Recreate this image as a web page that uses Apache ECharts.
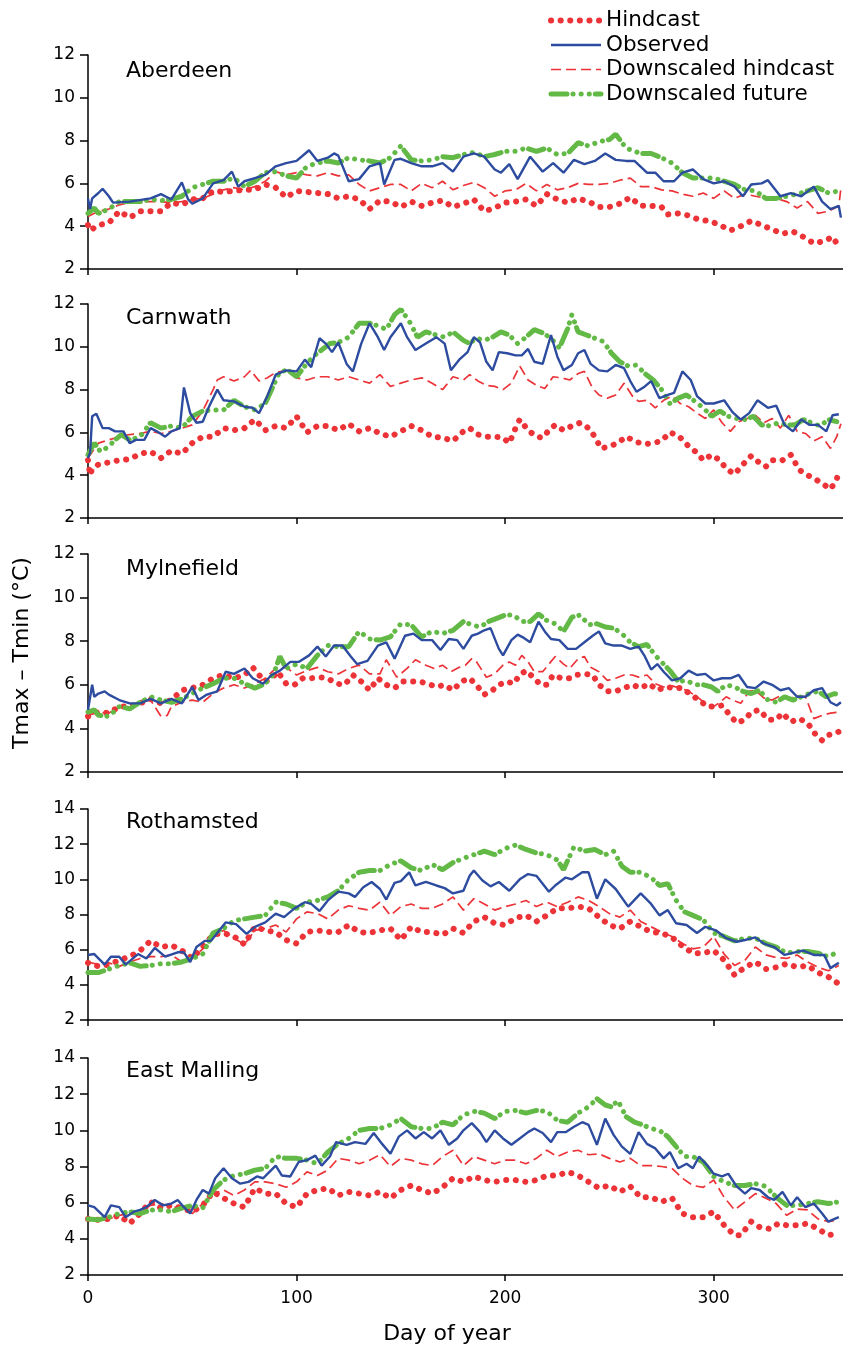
<!DOCTYPE html>
<html><head><meta charset="utf-8">
<script src="https://cdn.jsdelivr.net/npm/echarts@6/dist/echarts.min.js"></script>
<style>html,body{margin:0;padding:0;background:#fff}#c{width:843px;height:1347px}</style>
</head><body><div id="c"></div><script>
// ---- DATA: [day of year, Tmax - Tmin (°C)] ----
const stations = ['Aberdeen', 'Carnwath', 'Mylnefield', 'Rothamsted', 'East Malling'];
const seriesNames = ['Hindcast', 'Observed', 'Downscaled hindcast', 'Downscaled future'];
const xTicks = [0, 100, 200, 300];
const yMaxes = [12, 12, 12, 14, 14];

const obsAberdeen = [[0,5.3],[1,4.8],[2,5.3],[5,5.55],[7,5.75],[10,5.4],[12,5.1],[20,5.15],[30,5.3],[35,5.5],[40,5.25],[45,6.05],[48,5.25],[50,5.05],[55,5.3],[60,6.0],[65,6.15],[69,6.55],[72,5.85],[75,6.1],[80,6.25],[85,6.4],[90,6.8],[95,6.95],[100,7.05],[106,7.55],[110,7.05],[115,7.2],[118,7.4],[120,7.3],[125,6.1],[130,6.2],[135,6.8],[140,6.95],[142,5.95],[147,7.1],[150,7.15],[155,6.95],[160,6.8],[165,6.8],[170,6.95],[175,6.55],[180,7.25],[185,7.4],[190,7.25],[195,6.65],[198,6.5],[202,6.9],[206,6.2],[212,7.25],[218,6.55],[223,6.95],[228,6.5],[233,7.1],[238,6.9],[243,7.05],[248,7.4],[253,7.1],[258,7.05],[262,7.05],[268,6.5],[272,6.5],[276,6.1],[281,6.1],[285,6.5],[290,6.65],[295,6.2],[300,6.0],[305,6.1],[310,5.85],[314,5.4],[318,5.95],[323,6.0],[326,6.15],[332,5.4],[337,5.55],[342,5.4],[348,5.85],[352,5.15],[356,4.8],[360,4.95],[361,4.4]];
const hindAberdeen = [[0,4.05],[1,3.8],[5,4.05],[10,4.15],[15,4.7],[20,4.4],[25,4.7],[30,4.7],[35,4.7],[40,5.1],[45,5.0],[50,5.25],[55,5.3],[60,5.65],[65,5.6],[70,5.65],[75,5.7],[80,5.7],[85,5.95],[90,5.8],[95,5.35],[100,5.65],[105,5.6],[110,5.55],[115,5.5],[120,5.3],[125,5.4],[130,5.25],[135,4.8],[140,5.2],[145,5.15],[150,4.9],[155,5.15],[160,4.95],[165,5.1],[170,5.2],[175,4.9],[180,5.05],[185,5.25],[190,4.7],[195,4.85],[200,5.1],[205,5.15],[210,5.25],[215,4.95],[220,5.5],[225,5.25],[230,5.1],[235,5.3],[240,5.15],[245,4.9],[250,4.9],[255,5.05],[260,5.35],[265,4.95],[270,4.95],[275,4.9],[278,4.55],[283,4.6],[288,4.5],[293,4.3],[298,4.25],[303,4.05],[308,3.8],[313,4.0],[318,4.25],[323,4.05],[328,3.85],[333,3.65],[338,3.75],[343,3.5],[348,3.2],[353,3.3],[357,3.5],[360,3.05]];
const dsHindAberdeen = [[0,4.45],[5,4.7],[10,4.8],[15,5.0],[20,5.1],[25,5.15],[30,5.15],[35,5.15],[40,5.1],[45,5.15],[50,5.25],[55,5.3],[60,5.5],[65,5.7],[70,5.8],[75,5.7],[80,5.85],[85,6.1],[90,6.55],[95,6.4],[100,6.5],[105,6.4],[110,6.35],[115,6.5],[120,6.35],[125,6.4],[130,5.95],[135,5.65],[140,5.8],[145,5.95],[150,5.95],[155,5.65],[160,6.0],[165,5.8],[170,6.1],[175,5.7],[180,5.9],[185,6.05],[190,5.8],[195,5.4],[200,5.65],[205,5.7],[210,6.0],[215,5.65],[220,5.95],[225,5.7],[230,5.8],[235,6.0],[240,5.95],[245,5.95],[250,6.0],[255,6.15],[260,6.25],[265,5.85],[270,5.85],[275,5.7],[280,5.65],[285,5.5],[290,5.4],[295,5.55],[300,5.3],[305,5.65],[310,5.3],[315,5.5],[320,5.4],[325,5.3],[330,5.3],[335,5.15],[340,4.85],[345,5.15],[350,4.6],[355,4.7],[360,4.95],[361,5.8]];
const dsFutAberdeen = [[0,4.6],[3,4.85],[5,4.6],[10,4.8],[15,5.15],[20,5.15],[25,5.15],[30,5.25],[35,5.2],[40,5.25],[45,5.4],[50,5.8],[55,5.95],[60,6.1],[65,6.1],[70,6.25],[75,5.85],[80,6.1],[85,6.5],[90,6.55],[95,6.35],[100,6.25],[105,6.8],[110,6.95],[115,7.05],[120,6.95],[125,7.2],[130,7.1],[135,7.05],[140,6.95],[145,7.2],[150,7.75],[155,7.1],[160,7.05],[165,7.1],[170,7.25],[175,7.2],[180,7.35],[185,7.45],[190,7.25],[195,7.35],[200,7.5],[205,7.5],[210,7.65],[215,7.5],[220,7.65],[225,7.35],[230,7.4],[235,7.9],[240,7.75],[245,7.95],[250,8.05],[253,8.3],[258,7.65],[262,7.5],[265,7.4],[270,7.4],[275,7.2],[280,6.95],[285,6.5],[290,6.25],[295,6.25],[300,6.25],[305,6.1],[310,5.95],[315,5.7],[320,5.65],[325,5.3],[330,5.3],[335,5.4],[340,5.5],[345,5.65],[350,5.8],[355,5.55],[360,5.65]];

const obsCarnwath = [[0,4.8],[1,5.05],[2,6.75],[4,6.87],[7,6.2],[10,6.2],[13,6.05],[17,6.05],[20,5.5],[23,5.65],[27,5.65],[30,6.2],[33,6.05],[37,5.8],[40,6.05],[44,6.2],[46,8.1],[49,6.9],[52,6.45],[55,6.5],[58,7.2],[62,8.0],[65,7.5],[70,7.45],[75,7.2],[79,7.15],[82,6.9],[86,7.7],[90,8.7],[95,8.9],[100,8.85],[104,9.4],[107,9.05],[111,10.4],[114,10.15],[117,9.75],[120,10.2],[124,9.2],[127,8.85],[131,10.15],[135,11.1],[139,10.45],[142,9.85],[145,10.45],[150,11.1],[153,10.45],[157,9.85],[162,10.15],[167,10.45],[171,10.15],[174,8.9],[178,9.4],[182,9.75],[185,10.45],[188,10.2],[191,9.3],[194,8.9],[197,9.75],[201,9.7],[205,9.6],[208,9.6],[211,9.9],[214,9.3],[218,9.2],[222,10.55],[225,9.55],[228,8.9],[232,9.15],[235,9.7],[238,9.85],[241,9.2],[245,8.9],[249,8.85],[253,9.15],[257,9.0],[260,8.4],[263,7.9],[267,8.15],[270,8.4],[274,7.6],[278,7.75],[281,7.85],[285,8.85],[289,8.45],[292,7.7],[296,7.35],[300,7.35],[305,7.5],[309,6.95],[313,6.6],[317,6.9],[321,7.5],[326,7.15],[330,7.25],[334,6.35],[338,6.05],[342,6.6],[346,6.35],[350,6.35],[354,6.05],[357,6.8],[360,6.85]];
const hindCarnwath = [[0,4.7],[1,4.0],[2,4.3],[5,4.5],[10,4.6],[15,4.7],[20,4.75],[25,5.0],[30,5.1],[35,4.8],[40,5.15],[45,5.0],[50,5.5],[55,5.8],[60,5.8],[65,6.2],[70,6.1],[75,6.2],[80,6.6],[85,6.1],[90,6.3],[95,6.2],[100,6.75],[105,6.0],[110,6.3],[115,6.3],[120,6.1],[125,6.4],[130,6.05],[135,6.2],[140,5.95],[145,5.8],[150,6.05],[155,6.3],[160,6.1],[165,5.8],[170,5.75],[175,5.6],[180,6.05],[183,6.2],[187,5.9],[191,5.8],[195,5.8],[199,5.75],[202,5.5],[205,6.2],[207,6.6],[211,6.1],[215,5.8],[218,5.75],[221,6.1],[224,6.35],[228,6.1],[232,6.3],[236,6.45],[240,6.2],[243,5.8],[246,5.25],[250,5.35],[254,5.5],[258,5.8],[263,5.55],[267,5.45],[271,5.5],[275,5.6],[279,6.0],[283,5.85],[288,5.35],[292,5.05],[295,4.7],[299,4.95],[303,4.7],[306,4.3],[310,4.05],[314,4.5],[318,4.9],[321,4.65],[325,4.4],[328,4.7],[333,4.7],[337,4.95],[341,4.25],[345,4.0],[349,3.8],[353,3.55],[356,3.35],[359,3.8],[360,4.2]];
const dsHindCarnwath = [[0,4.8],[5,5.5],[10,5.65],[15,5.8],[20,5.9],[25,5.95],[30,6.05],[35,5.95],[40,6.05],[45,6.2],[50,6.35],[55,7.0],[60,8.0],[62,8.45],[65,8.6],[70,8.4],[75,8.6],[78,8.9],[82,8.4],[86,8.55],[90,8.8],[95,8.9],[100,8.55],[105,8.45],[110,8.6],[115,8.6],[120,8.45],[125,8.6],[130,8.45],[135,8.3],[140,8.7],[145,8.15],[150,8.3],[155,8.45],[160,8.55],[165,8.3],[170,8.0],[175,8.6],[180,8.45],[183,8.7],[187,8.4],[191,8.2],[195,8.15],[199,8.0],[203,8.3],[207,9.1],[211,8.45],[215,8.2],[219,8.05],[223,8.6],[227,8.55],[231,8.45],[235,8.75],[238,8.85],[242,8.05],[245,7.75],[249,7.6],[253,7.75],[257,8.3],[261,7.7],[264,7.45],[268,7.5],[272,7.15],[276,7.5],[280,7.7],[284,7.35],[288,7.2],[292,6.9],[296,6.65],[300,7.05],[304,6.45],[308,6.05],[312,6.5],[316,6.65],[320,6.8],[324,6.45],[328,6.65],[332,6.2],[336,6.8],[340,6.05],[344,5.95],[348,5.6],[352,5.8],[356,5.25],[359,5.8],[361,6.4]];
const dsFutCarnwath = [[0,4.95],[3,5.5],[6,5.1],[10,5.35],[13,5.65],[16,5.9],[20,5.65],[25,5.8],[30,6.45],[35,6.2],[40,6.3],[45,6.2],[50,6.75],[55,7.0],[60,7.05],[65,7.05],[70,7.5],[75,7.2],[80,7.05],[85,7.35],[88,8.0],[92,8.85],[96,8.9],[100,8.6],[104,9.1],[108,9.55],[112,9.85],[116,10.15],[120,10.2],[125,10.45],[130,11.1],[135,11.1],[140,10.95],[143,10.8],[147,11.5],[150,11.75],[154,11.2],[158,10.45],[162,10.7],[167,10.55],[171,10.45],[175,10.7],[180,10.3],[183,10.15],[186,10.4],[190,10.3],[194,10.45],[198,10.7],[202,10.55],[206,10.15],[210,10.45],[214,10.8],[218,10.65],[222,10.4],[226,9.95],[230,10.85],[232,11.5],[235,10.7],[239,10.55],[243,10.4],[247,10.25],[251,9.7],[255,9.3],[259,9.1],[263,9.15],[267,8.75],[271,8.45],[275,8.0],[279,7.35],[283,7.6],[287,7.75],[291,7.45],[295,7.15],[299,6.75],[303,7.0],[307,6.75],[311,6.65],[315,6.6],[319,6.75],[323,6.35],[327,6.3],[331,6.45],[335,6.35],[339,6.35],[343,6.6],[347,6.45],[351,6.3],[355,6.6],[359,6.5]];

const obsMylnefield = [[0,4.85],[2,6.0],[3,5.45],[5,5.6],[8,5.7],[10,5.55],[15,5.3],[20,5.15],[25,5.15],[30,5.35],[35,5.15],[40,5.35],[45,5.15],[50,5.9],[53,5.3],[57,5.55],[62,5.7],[66,6.6],[70,6.5],[75,6.75],[79,6.3],[84,6.05],[88,6.45],[92,6.65],[97,7.05],[101,7.05],[106,7.35],[110,7.75],[114,7.3],[118,7.8],[122,7.8],[126,7.3],[129,6.95],[134,7.1],[139,7.8],[143,7.95],[147,7.2],[152,8.25],[156,8.35],[160,8.05],[165,8.05],[169,7.6],[173,8.1],[177,8.05],[180,7.65],[184,8.25],[187,8.35],[190,8.5],[193,8.6],[197,7.65],[199,7.35],[203,8.05],[206,8.3],[209,8.15],[212,7.95],[216,8.9],[219,8.45],[222,8.1],[226,8.05],[230,7.65],[234,7.65],[238,7.95],[242,8.25],[245,8.45],[248,7.9],[252,7.8],[256,7.8],[260,7.65],[264,7.75],[267,7.3],[270,6.7],[273,6.95],[276,6.6],[280,6.2],[284,6.3],[288,6.65],[292,6.45],[296,6.5],[300,6.2],[304,6.3],[308,6.3],[312,6.45],[316,5.9],[320,5.85],[324,6.15],[328,6.0],[332,5.75],[336,5.85],[340,5.45],[344,5.45],[348,5.75],[352,5.85],[356,5.2],[359,5.05],[361,5.2]];
const hindMylnefield = [[0,4.55],[5,4.75],[10,4.7],[15,5.0],[20,5.0],[25,5.15],[30,5.35],[35,5.15],[40,5.3],[45,5.75],[50,5.85],[55,6.0],[60,6.3],[65,6.45],[70,6.3],[75,6.45],[79,6.8],[82,6.45],[85,6.15],[88,6.3],[91,6.6],[95,6.05],[99,6.0],[103,6.3],[107,6.3],[111,6.35],[115,6.3],[119,6.05],[123,6.0],[127,6.45],[131,6.15],[135,5.75],[139,6.3],[143,6.0],[147,5.85],[151,6.15],[155,6.15],[159,6.15],[163,6.05],[167,5.9],[171,6.0],[175,5.75],[179,6.15],[183,6.3],[187,5.9],[190,5.55],[194,5.75],[197,6.0],[201,6.15],[204,6.05],[207,6.45],[210,6.65],[214,6.3],[217,6.0],[220,6.0],[223,6.45],[227,6.3],[231,6.3],[234,6.45],[238,6.5],[242,6.45],[245,6.0],[249,5.7],[253,5.7],[257,5.85],[261,6.0],[265,5.85],[269,6.05],[273,5.75],[277,5.9],[281,5.85],[285,5.85],[289,5.55],[293,5.3],[297,5.0],[300,5.0],[304,5.05],[307,4.7],[311,4.25],[315,4.4],[318,4.75],[322,4.85],[326,4.4],[330,4.4],[333,4.7],[337,4.3],[341,4.45],[345,4.25],[349,3.7],[352,3.45],[355,3.7],[358,3.75],[360,3.85]];
const dsHindMylnefield = [[0,4.6],[5,4.75],[10,4.7],[15,5.0],[20,5.05],[25,5.2],[30,5.3],[35,4.55],[38,4.6],[40,5.0],[45,5.2],[50,5.3],[55,5.2],[60,5.6],[65,5.85],[70,6.0],[75,5.85],[80,6.05],[85,6.3],[90,6.75],[95,6.8],[100,6.45],[105,6.65],[110,6.8],[115,6.6],[120,6.5],[125,6.75],[130,6.9],[135,6.5],[140,6.5],[143,7.15],[148,6.35],[153,6.75],[157,7.15],[162,6.9],[166,6.75],[170,6.9],[174,6.6],[178,6.8],[181,6.9],[184,7.2],[186,7.1],[188,6.8],[191,6.35],[195,6.5],[199,6.9],[202,7.05],[205,6.9],[208,7.35],[211,7.05],[214,6.6],[218,6.6],[221,6.95],[224,7.3],[228,6.95],[231,6.75],[235,7.2],[238,7.3],[241,6.8],[245,6.6],[249,6.2],[253,6.3],[257,6.45],[261,6.45],[264,6.35],[268,6.45],[272,6.05],[276,5.9],[280,5.95],[284,5.85],[288,5.7],[292,5.45],[296,5.15],[300,5.0],[303,5.2],[306,5.45],[309,5.3],[313,5.15],[317,5.7],[320,5.75],[324,5.4],[328,5.3],[332,5.5],[336,5.35],[340,5.5],[344,5.45],[348,4.45],[352,4.6],[356,4.7],[360,4.75]];
const dsFutMylnefield = [[0,4.75],[3,4.85],[5,4.6],[10,4.55],[15,5.0],[20,4.9],[25,5.2],[30,5.45],[35,5.3],[40,5.2],[45,5.35],[50,5.6],[55,5.85],[60,6.05],[65,6.3],[70,6.3],[75,6.05],[80,5.85],[85,6.05],[89,6.5],[92,7.3],[95,6.75],[100,6.95],[105,6.75],[110,7.35],[115,7.8],[120,7.75],[125,7.75],[130,8.45],[135,8.1],[140,8.05],[145,8.2],[150,8.8],[155,8.75],[160,8.2],[165,8.45],[170,8.35],[175,8.5],[180,8.9],[184,8.75],[188,8.65],[192,8.9],[196,9.05],[200,9.2],[204,9.2],[208,8.9],[212,8.9],[216,9.25],[220,8.95],[224,8.8],[228,8.45],[232,9.1],[236,9.2],[240,8.75],[244,8.8],[248,8.65],[252,8.6],[256,8.35],[260,7.95],[264,7.75],[268,7.85],[272,7.35],[275,7.05],[279,6.65],[283,6.15],[287,6.2],[291,6.0],[295,6.0],[299,5.9],[302,5.7],[306,6.0],[310,5.9],[314,5.7],[318,5.6],[322,5.75],[326,5.3],[330,5.2],[334,5.45],[338,5.3],[342,5.45],[346,5.6],[350,5.7],[354,5.45],[358,5.6],[361,5.5]];

const obsRothamsted = [[0,5.7],[3,5.75],[8,5.15],[11,5.6],[15,5.6],[18,5.15],[24,5.75],[28,5.5],[32,6.1],[37,5.6],[43,5.85],[46,5.85],[49,5.3],[52,6.15],[56,6.5],[59,6.5],[63,7.1],[66,7.55],[71,7.45],[76,6.9],[80,7.3],[85,7.55],[90,8.05],[94,7.85],[99,8.35],[104,8.7],[107,8.6],[111,8.2],[115,8.8],[120,9.3],[125,9.2],[128,9.0],[132,9.55],[136,9.85],[140,9.45],[143,8.85],[147,9.8],[150,9.9],[154,10.4],[157,9.65],[162,9.85],[167,9.65],[171,9.5],[175,9.2],[180,9.35],[183,10.2],[185,10.5],[189,9.95],[193,9.6],[197,9.85],[202,9.35],[207,10.0],[211,10.3],[215,10.2],[221,9.3],[224,9.65],[229,10.1],[232,10.0],[237,10.4],[240,10.4],[244,8.9],[248,10.0],[253,9.45],[259,8.45],[265,9.2],[270,8.6],[274,7.95],[278,8.25],[282,7.5],[287,7.4],[292,6.95],[296,7.3],[301,7.1],[306,6.65],[311,6.45],[315,6.55],[320,6.7],[324,6.35],[329,6.15],[334,5.7],[339,5.85],[343,5.95],[348,5.7],[353,5.7],[356,4.95],[360,5.25]];
const hindRothamsted = [[0,5.25],[5,5.05],[10,5.15],[15,5.4],[20,5.6],[25,5.95],[30,6.5],[35,6.15],[40,6.25],[45,5.95],[50,5.5],[55,6.15],[60,6.85],[65,6.95],[70,6.75],[75,6.3],[80,7.3],[85,7.1],[90,7.0],[95,6.55],[100,6.35],[105,7.0],[110,7.1],[115,7.0],[120,7.0],[125,7.4],[130,7.0],[135,6.95],[140,7.1],[145,7.2],[150,6.55],[155,7.3],[160,7.0],[165,7.0],[170,6.85],[175,7.2],[180,6.95],[185,7.6],[190,7.85],[195,7.5],[200,7.4],[205,7.8],[210,7.95],[215,7.6],[220,7.95],[225,8.35],[230,8.35],[235,8.45],[240,8.35],[245,7.85],[250,7.4],[255,7.2],[260,7.6],[265,7.3],[270,7.0],[275,6.95],[280,6.7],[285,6.2],[290,5.8],[295,5.8],[300,5.95],[305,5.4],[310,4.55],[315,5.0],[320,5.3],[325,4.9],[330,5.0],[335,5.2],[340,5.0],[345,5.1],[350,4.7],[355,4.45],[360,4.05]];
const dsHindRothamsted = [[0,5.3],[5,5.15],[10,5.25],[15,5.05],[20,5.3],[25,5.5],[30,5.6],[35,5.6],[40,5.7],[45,5.3],[50,5.5],[55,6.05],[60,6.7],[65,7.1],[70,6.65],[75,6.3],[80,7.1],[85,7.2],[90,7.4],[95,7.0],[100,7.75],[105,8.15],[110,8.05],[115,7.75],[120,8.25],[125,8.5],[130,8.35],[135,8.25],[140,8.7],[145,7.95],[150,8.45],[155,8.6],[160,8.35],[165,8.35],[170,8.6],[175,9.0],[180,8.25],[185,8.9],[190,8.6],[195,8.25],[200,8.45],[205,8.6],[210,8.8],[215,8.45],[220,8.7],[225,8.45],[230,8.7],[235,9.0],[240,8.8],[245,8.45],[250,8.05],[255,7.85],[260,8.25],[265,7.6],[270,7.3],[275,7.0],[280,6.75],[285,6.35],[290,6.05],[295,6.15],[300,6.75],[305,5.75],[310,5.1],[315,5.4],[320,6.15],[325,5.7],[330,5.55],[335,5.5],[340,5.7],[345,5.3],[350,5.0],[355,4.8],[360,5.1]];
const dsFutRothamsted = [[0,4.7],[5,4.7],[10,4.9],[15,5.1],[20,5.25],[25,5.05],[30,5.1],[35,5.2],[40,5.2],[45,5.3],[50,5.5],[55,5.75],[60,6.95],[65,7.2],[70,7.65],[75,7.75],[80,7.85],[85,7.95],[90,8.7],[95,8.6],[100,8.35],[105,8.7],[110,8.8],[115,9.0],[120,9.35],[125,10.0],[130,10.4],[135,10.5],[140,10.5],[145,10.85],[150,11.05],[155,10.65],[160,10.5],[165,10.85],[170,10.55],[175,10.95],[180,11.2],[185,11.4],[190,11.6],[195,11.4],[200,11.75],[205,11.95],[210,11.7],[215,11.5],[220,11.4],[225,11.1],[228,10.55],[233,11.85],[238,11.6],[243,11.7],[248,11.4],[252,11.6],[256,10.75],[260,10.4],[265,10.4],[270,10.1],[274,9.65],[278,9.75],[282,8.8],[286,8.15],[290,7.95],[295,7.7],[300,6.95],[305,6.75],[310,6.5],[315,6.65],[320,6.65],[325,6.35],[330,6.15],[335,5.8],[340,5.9],[345,5.9],[350,5.8],[355,5.6],[360,5.9]];

const obsEastMalling = [[0,5.85],[3,5.75],[8,5.2],[11,5.85],[15,5.75],[18,5.2],[22,5.5],[25,5.6],[28,5.75],[32,6.15],[36,5.85],[40,5.95],[43,6.15],[46,5.75],[49,5.4],[52,6.15],[55,6.7],[58,6.5],[61,7.35],[65,7.9],[69,7.35],[73,7.05],[77,7.15],[81,7.45],[84,7.35],[87,7.7],[90,8.05],[93,7.5],[97,7.45],[101,8.25],[105,8.35],[109,8.6],[112,8.05],[116,8.55],[119,9.35],[124,9.2],[128,9.35],[133,9.25],[137,9.85],[141,9.25],[145,8.7],[149,9.65],[153,10.0],[157,9.55],[161,9.9],[165,9.55],[169,10.0],[173,9.2],[177,9.55],[180,10.0],[184,10.4],[188,9.9],[191,9.35],[195,10.0],[199,9.55],[203,9.2],[207,9.55],[211,9.9],[214,10.1],[218,9.85],[222,9.35],[225,9.9],[229,9.9],[233,10.2],[237,10.45],[240,10.3],[244,9.2],[248,10.65],[252,9.75],[256,9.1],[260,8.7],[264,9.9],[268,9.25],[272,9.0],[276,8.45],[279,8.8],[283,7.9],[287,8.15],[290,7.9],[293,8.55],[297,8.05],[300,7.6],[304,7.45],[307,7.6],[311,6.9],[315,6.5],[318,6.8],[322,6.7],[326,6.3],[329,6.15],[333,6.6],[337,5.85],[340,6.3],[344,5.75],[348,5.95],[352,5.4],[355,4.95],[358,5.1],[360,5.2]];
const hindEastMalling = [[0,5.1],[5,5.05],[10,5.1],[15,5.3],[20,4.85],[25,5.4],[30,6.05],[35,5.7],[40,5.85],[45,5.7],[50,5.5],[55,5.85],[60,6.6],[65,6.25],[70,5.95],[75,5.75],[80,6.8],[85,6.5],[90,6.5],[95,5.95],[100,5.75],[105,6.5],[110,6.7],[115,6.8],[120,6.4],[125,6.6],[130,6.5],[135,6.4],[140,6.6],[145,6.25],[150,6.7],[155,6.95],[160,6.7],[165,6.5],[170,6.85],[175,7.35],[180,7.15],[185,7.45],[190,7.25],[195,7.15],[200,7.25],[205,7.25],[210,7.15],[215,7.25],[220,7.5],[225,7.5],[230,7.7],[235,7.5],[240,7.15],[245,6.8],[250,6.95],[255,6.6],[260,6.9],[265,6.3],[270,6.3],[275,6.05],[280,6.25],[285,5.4],[290,5.2],[295,5.2],[300,5.5],[305,4.75],[310,4.2],[313,4.2],[318,4.95],[322,4.65],[327,4.55],[331,4.85],[335,4.75],[340,4.75],[345,4.85],[350,4.55],[355,4.2],[360,4.3]];
const dsHindEastMalling = [[0,5.1],[5,5.05],[10,5.1],[15,5.3],[20,5.4],[25,5.5],[30,5.85],[35,5.95],[40,5.75],[45,5.75],[50,5.4],[55,5.95],[60,6.5],[65,6.7],[70,6.4],[75,6.7],[80,7.15],[85,7.15],[90,7.05],[95,6.85],[100,7.15],[105,7.7],[110,7.5],[115,7.8],[120,8.45],[125,8.35],[130,8.15],[135,8.35],[140,8.65],[145,8.0],[150,8.45],[155,8.35],[160,8.15],[165,8.05],[170,8.55],[175,8.9],[180,8.05],[185,8.55],[190,8.35],[195,8.15],[200,8.35],[205,8.35],[210,8.15],[215,8.45],[220,8.9],[225,8.55],[230,8.8],[235,8.9],[240,8.65],[245,8.7],[250,8.45],[255,8.25],[260,8.45],[265,8.05],[270,8.05],[275,8.0],[280,7.9],[285,7.35],[290,6.95],[295,6.85],[300,7.25],[305,6.3],[310,5.6],[315,6.05],[320,6.5],[325,6.25],[330,5.95],[335,5.3],[340,5.65],[345,5.6],[350,5.1],[355,4.95],[360,5.05]];
const dsFutEastMalling = [[0,5.1],[5,5.05],[10,5.2],[15,5.4],[20,5.5],[25,5.4],[30,5.6],[35,5.6],[40,5.5],[45,5.7],[50,5.85],[55,5.7],[60,6.7],[65,7.25],[70,7.5],[75,7.6],[80,7.8],[85,7.9],[90,8.55],[95,8.45],[100,8.45],[105,8.35],[110,8.15],[115,8.8],[120,9.25],[125,9.55],[130,10.0],[135,10.1],[140,10.1],[145,10.3],[150,10.65],[155,10.2],[160,10.1],[165,10.1],[170,10.45],[175,10.3],[180,10.85],[185,11.05],[190,10.95],[195,10.65],[200,11.05],[205,11.1],[210,10.95],[215,11.1],[220,11.05],[225,10.55],[230,10.45],[235,10.95],[240,11.3],[244,11.75],[248,11.4],[251,11.3],[254,11.65],[258,10.75],[262,10.45],[266,10.3],[270,10.1],[274,10.0],[278,9.65],[282,9.1],[286,8.55],[290,8.55],[295,8.25],[300,7.45],[305,7.15],[310,6.95],[315,6.95],[320,7.05],[325,6.9],[330,6.3],[335,5.85],[340,5.85],[345,5.95],[350,6.05],[355,5.95],[360,6.05]];

const hindcastData = [hindAberdeen, hindCarnwath, hindMylnefield, hindRothamsted, hindEastMalling];
const observedData = [obsAberdeen, obsCarnwath, obsMylnefield, obsRothamsted, obsEastMalling];
const dsHindData = [dsHindAberdeen, dsHindCarnwath, dsHindMylnefield, dsHindRothamsted, dsHindEastMalling];
const dsFutData = [dsFutAberdeen, dsFutCarnwath, dsFutMylnefield, dsFutRothamsted, dsFutEastMalling];

// ---- STYLE / LAYOUT ----
const FONT = 'DejaVu Sans';
const RED = '#ec3338', BLUE = '#2d4c9f', GREEN = '#63b946';
const gridTop = [55, 304, 554, 809, 1058];
const gridH = [214, 214, 218, 211, 217];
const nameY = [71, 318, 569, 822, 1071];

const styles = {
  'Hindcast': {color: RED, width: 6, type: [0.1, 9.5], cap: 'round'},
  'Observed': {color: BLUE, width: 2.4, type: 'solid'},
  'Downscaled hindcast': {color: RED, width: 1.7, type: [10, 5]},
  'Downscaled future': {color: GREEN, width: 5, type: [16, 6, 0.1, 8, 0.1, 8, 0.1, 6], cap: 'round'}
};

const grids = [], xAxes = [], yAxes = [], series = [], graphics = [];
const axisCol = {color: '#000', width: 1.5};
stations.forEach((st, i) => {
  grids.push({left: 88, width: 755, top: gridTop[i], height: gridH[i]});
  const last = i === stations.length - 1;
  xAxes.push({
    type: 'value', gridIndex: i, min: 0, max: 362, interval: 100,
    axisLine: {lineStyle: axisCol},
    axisTick: {show: true, length: 6, lineStyle: axisCol, customValues: xTicks},
    axisLabel: {show: last, margin: 15, fontSize: 17, color: '#000', fontFamily: FONT, customValues: xTicks},
    splitLine: {show: false}
  });
  yAxes.push({
    type: 'value', gridIndex: i, min: 2, max: yMaxes[i], interval: 2,
    axisLine: {show: true, lineStyle: axisCol},
    axisTick: {show: true, length: 8, lineStyle: axisCol},
    axisLabel: {margin: 13, fontSize: 17, color: '#000', fontFamily: FONT},
    splitLine: {show: false}
  });
  const add = (name, data, z) => series.push({
    name, type: 'line', xAxisIndex: i, yAxisIndex: i, data, symbol: 'none',
    color: styles[name].color, itemStyle: {color: styles[name].color},
    lineStyle: styles[name], z, silent: true, animation: false
  });
  add('Hindcast', hindcastData[i], 2);
  add('Downscaled hindcast', dsHindData[i], 3);
  add('Downscaled future', dsFutData[i], 4);
  add('Observed', observedData[i], 5);
  graphics.push({type: 'text', x: 126, y: nameY[i],
    style: {text: st, font: '22px "DejaVu Sans"', fill: '#000', textVerticalAlign: 'middle', verticalAlign: 'middle'}});
});
graphics.push({type: 'text', x: 22, y: 653, rotation: Math.PI / 2,
  style: {text: 'Tmax \u2013 Tmin (\u00b0C)', font: '22px "DejaVu Sans"', fill: '#000', textAlign: 'center', align: 'center', textVerticalAlign: 'middle', verticalAlign: 'middle'}});
graphics.push({type: 'text', x: 447, y: 1334,
  style: {text: 'Day of year', font: '22px "DejaVu Sans"', fill: '#000', textAlign: 'center', align: 'center', textVerticalAlign: 'middle', verticalAlign: 'middle'}});

const chart = echarts.init(document.getElementById('c'), null, {renderer: 'canvas'});
chart.setOption({
  animation: false,
  backgroundColor: '#fff',
  textStyle: {fontFamily: FONT},
  grid: grids, xAxis: xAxes, yAxis: yAxes, series,
  legend: {
    orient: 'vertical', left: 548, top: 9.5, padding: 0, itemGap: 2.5,
    itemWidth: 50, itemHeight: 12, selectedMode: false,
    textStyle: {fontSize: 21.5, color: '#000', fontFamily: FONT, lineHeight: 21},
    data: seriesNames.map(n => ({name: n, itemStyle: {opacity: 0}, lineStyle: {width: styles[n].width}}))
  },
  graphic: graphics
});
</script></body></html>
